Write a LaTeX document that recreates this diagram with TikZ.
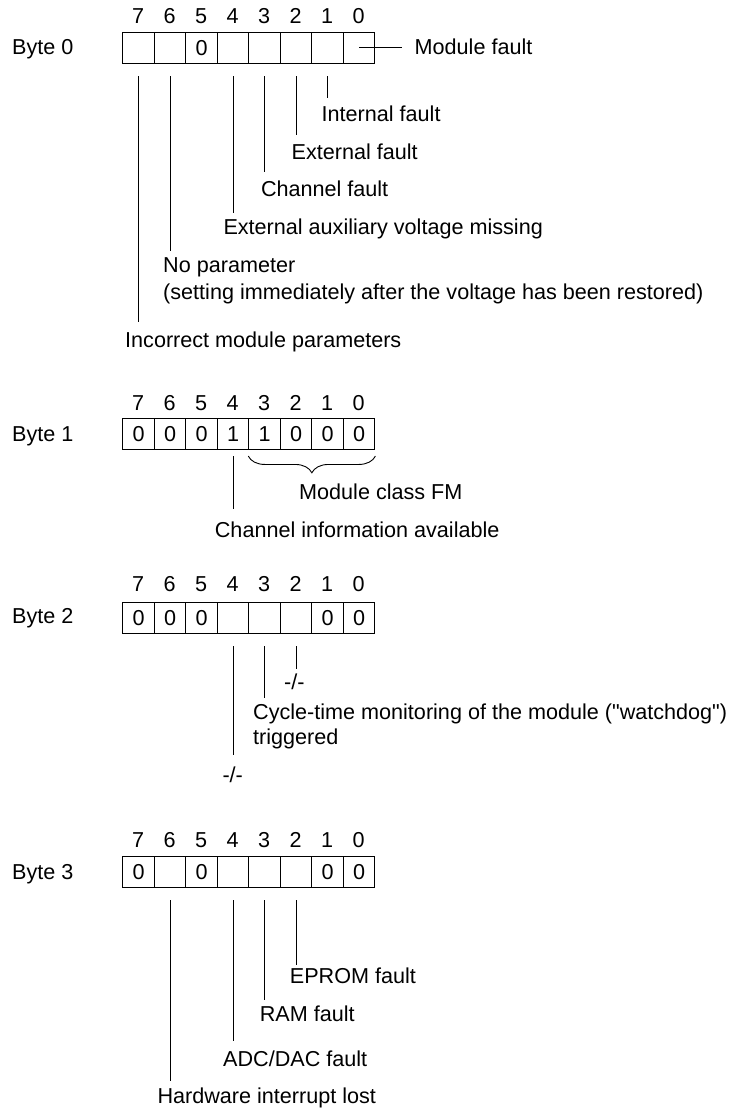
\documentclass[tikz,border=0pt]{standalone}
\usepackage{fontspec}
\setmainfont{Liberation Sans}
\newfontfamily\rawfont{Liberation Sans}
\usetikzlibrary{decorations.pathreplacing}
\begin{document}
\begin{tikzpicture}[x=1pt,y=-1pt,
  font=\fontsize{21.6}{26}\selectfont,
  cell/.style={draw, line width=1.1pt, minimum width=31.5pt, minimum height=31.3pt, inner sep=0pt, anchor=north west},
  bitno/.style={anchor=base, inner sep=0pt},
  bytelbl/.style={anchor=base west, inner sep=0pt},
  lbl/.style={anchor=base west, inner sep=0pt, text height=15.5pt, text depth=4.5pt, outer ysep=#1},
  lbl/.default=8pt,
  lead/.style={line width=0.9pt}]
\useasboundingbox (0,0) rectangle (733,1110);

% ---------------- Byte 0 ----------------
\node[bytelbl] (byte0) at (12,54.7) {Byte 0};
\foreach \b/\v [count=\i from 0] in {7/{},6/{},5/0,4/{},3/{},2/{},1/{},0/{}} {
  \node[cell] (a\b) at ({122.3+\i*31.5},31.7) {\v};
  \node[bitno] (na\b) at ({138.05+\i*31.5},24) {\b};
}
\node[anchor=base west, inner sep=0pt, outer xsep=13pt] (t00) at (401.7,54.7) {Module fault};
\draw[lead] (a0.center) -- (a0.center -| t00.west);

\node[lbl=7.9pt] (t01) at (321.5,121.7) {Internal fault};
\node[lbl=8.9pt] (t02) at (291.5,159.4) {External fault};
\node[lbl=9.5pt] (t03) at (260.8,196.7) {Channel fault};
\node[lbl=6.2pt] (t04) at (223.3,234.4) {External auxiliary voltage missing};
\node[lbl=6.5pt] (t06) at (163,272.7) {No parameter};
\node[lbl] (t06b) at (163,299.4) {(setting immediately after the voltage has been restored)};
\node[lbl=9.8pt] (t07) at (125,347) {Incorrect module parameters};

\foreach \b in {1,2,3,4,6,7}
  \draw[lead] ([yshift=-12pt]a\b.south) -- (a\b.south |- t0\b.north);

% ---------------- Byte 1 ----------------
\node[bytelbl] (byte1) at (12,441) {Byte 1};
\foreach \b/\v [count=\i from 0] in {7/0,6/0,5/0,4/1,3/1,2/0,1/0,0/0} {
  \node[cell] (b\b) at ({122.3+\i*31.5},417.7) {\v};
  \node[bitno] (nb\b) at ({138.05+\i*31.5},410.4) {\b};
}
\draw[lead, decorate, decoration={brace, amplitude=16.7pt}]
  ([yshift=-6pt]b0.south east) -- ([yshift=-6pt]b3.south west);
\node[lbl] (t1fm) at (299,499.4) {Module class FM};
\node[lbl=12.9pt] (t14) at (214.7,537.7) {Channel information available};
\draw[lead] ([yshift=-6pt]b4.south) -- (b4.south |- t14.north);

% ---------------- Byte 2 ----------------
\node[bytelbl] (byte2) at (12,623.5) {Byte 2};
\foreach \b/\v [count=\i from 0] in {7/0,6/0,5/0,4/{},3/{},2/{},1/0,0/0} {
  \node[cell] (c\b) at ({122.3+\i*31.5},601.7) {\v};
  \node[bitno] (nc\b) at ({138.05+\i*31.5},591) {\b};
}
\node[lbl=4.6pt] (t22) at (284,689.4) {-/-};
\node[lbl=5.6pt] (t23) at (253,719.4) {\rawfont Cycle-time monitoring of the module ("watchdog")};
\node[lbl] (t23b) at (253,744.4) {triggered};
\node[lbl=12.2pt] (t24) at (222.3,782.7) {-/-};
\foreach \b in {2,3,4}
  \draw[lead] ([yshift=-12pt]c\b.south) -- (c\b.south |- t2\b.north);

% ---------------- Byte 3 ----------------
\node[bytelbl] (byte3) at (12,879) {Byte 3};
\foreach \b/\v [count=\i from 0] in {7/0,6/{},5/0,4/{},3/{},2/{},1/0,0/0} {
  \node[cell] (d\b) at ({122.3+\i*31.5},855.7) {\v};
  \node[bitno] (nd\b) at ({138.05+\i*31.5},847.7) {\b};
}
\node[lbl=2.9pt] (t32) at (289.7,983.4) {EPROM fault};
\node[lbl=5.5pt] (t33) at (259.7,1021) {RAM fault};
\node[lbl=9.5pt] (t34) at (223,1066) {ADC/DAC fault};
\node[lbl=7.5pt] (t36) at (157.3,1103.7) {Hardware interrupt lost};
\foreach \b in {2,3,4,6}
  \draw[lead] ([yshift=-12pt]d\b.south) -- (d\b.south |- t3\b.north);
\end{tikzpicture}
\end{document}
